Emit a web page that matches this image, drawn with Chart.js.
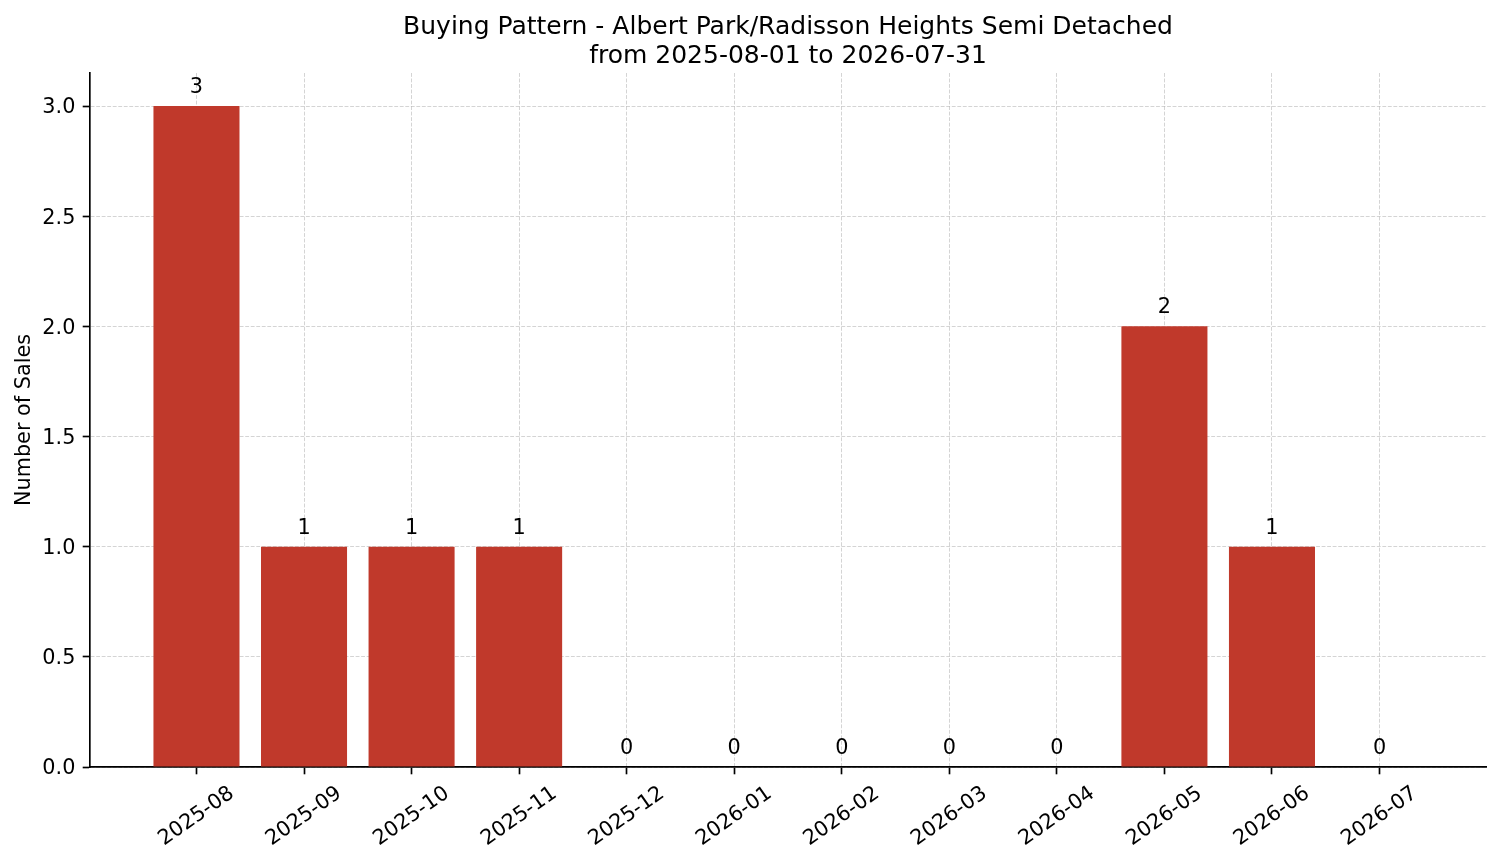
<!DOCTYPE html>
<html>
<head>
<meta charset="utf-8">
<title>Buying Pattern</title>
<script src="https://cdn.jsdelivr.net/npm/chart.js@4.4.1/dist/chart.umd.min.js"></script>
<style>
  html, body { margin: 0; padding: 0; background: #fff; }
  #wrap { width: 1501px; height: 863px; position: relative; }
</style>
</head>
<body>
<div id="wrap"><canvas id="chart"></canvas></div>
<script>
// Monthly sales counts for the suburb
const months = ['2025-08', '2025-09', '2025-10', '2025-11', '2025-12', '2026-01',
                '2026-02', '2026-03', '2026-04', '2026-05', '2026-06', '2026-07'];
const sales = [3, 1, 1, 1, 0, 0, 0, 0, 0, 2, 1, 0];
const yTicks = [0, 0.5, 1.0, 1.5, 2.0, 2.5, 3.0];
const titleLines = ['Buying Pattern - Albert Park/Radisson Heights Semi Detached',
                    'from 2025-08-01 to 2026-07-31'];

const FONT = 'DejaVu Sans';
const FS = 20.8;
const BAR = '#c0392b';
const GRID = 'rgba(176,176,176,0.55)';
const TICK_LEN = 7.3;

Chart.defaults.font.family = FONT;
Chart.defaults.color = '#000';

// title centred over the plot area, like matplotlib's ax.set_title
const axesTitle = {
  id: 'axesTitle',
  afterDraw(chart) {
    const { ctx, chartArea } = chart;
    const cx = (chartArea.left + chartArea.right) / 2;
    ctx.save();
    ctx.font = `25px "${FONT}"`;
    ctx.fillStyle = '#000';
    ctx.textAlign = 'center';
    ctx.textBaseline = 'alphabetic';
    titleLines.forEach((t, i) => ctx.fillText(t, cx, 34 + i * 28.7));
    ctx.restore();
  }
};

// rotated, centred month labels under the x axis
const monthLabels = {
  id: 'monthLabels',
  afterDraw(chart) {
    const { ctx, chartArea, scales: { x } } = chart;
    const ang = 35 * Math.PI / 180;
    const top = chartArea.bottom + TICK_LEN + 7.3;
    ctx.save();
    ctx.font = `${FS}px "${FONT}"`;
    ctx.fillStyle = '#000';
    ctx.textAlign = 'center';
    ctx.textBaseline = 'middle';
    months.forEach((m, i) => {
      const w = ctx.measureText(m).width;
      const h = FS * 1.164;
      const H = w * Math.sin(ang) + h * Math.cos(ang);
      ctx.save();
      ctx.translate(x.getPixelForValue(i), top + H / 2);
      ctx.rotate(-ang);
      ctx.fillText(m, 0, 0);
      ctx.restore();
    });
    ctx.restore();
  }
};

// value labels above each bar
const valueLabels = {
  id: 'valueLabels',
  afterDatasetsDraw(chart) {
    const { ctx, scales: { y } } = chart;
    const meta = chart.getDatasetMeta(0);
    ctx.save();
    ctx.font = `${FS}px "${FONT}"`;
    ctx.fillStyle = '#000';
    ctx.textAlign = 'center';
    ctx.textBaseline = 'alphabetic';
    meta.data.forEach((bar, i) => {
      ctx.fillText(String(sales[i]), bar.x, y.getPixelForValue(sales[i]) - 13);
    });
    ctx.restore();
  }
};

const gridOpts = {
  color: GRID,
  lineWidth: 1,
  offset: false,
  drawTicks: true,
  tickLength: TICK_LEN,
  tickColor: '#000',
  tickWidth: 1.67,
  tickBorderDash: [],
};
const borderOpts = { display: true, color: '#000', width: 1.67, dash: [3.85, 1.67] };

new Chart(document.getElementById('chart'), {
  type: 'bar',
  data: {
    datasets: [{
      data: sales.map((v, i) => ({ x: i, y: v })),
      backgroundColor: BAR,
      borderWidth: 0,
      barPercentage: 0.8,
      categoryPercentage: 1.0,
    }],
  },
  options: {
    responsive: true,
    maintainAspectRatio: false,
    animation: false,
    layout: { padding: { left: 0, right: 15, top: 73, bottom: 0 } },
    plugins: {
      legend: { display: false },
      tooltip: { enabled: false },
      title: { display: false },
    },
    scales: {
      x: {
        type: 'linear',
        offset: false,
        min: -0.99,
        max: 11.99,
        z: 1,
        afterBuildTicks: s => { s.ticks = months.map((m, i) => ({ value: i })); },
        afterFit: s => { s.height = 96; },
        ticks: { display: false },
        grid: gridOpts,
        border: borderOpts,
      },
      y: {
        min: 0,
        max: 3.15,
        z: 1,
        afterBuildTicks: s => { s.ticks = yTicks.map(v => ({ value: v })); },
        afterFit: s => { s.width = 90; },
        ticks: {
          padding: 7.3,
          labelOffset: 2,
          font: { size: FS },
          color: '#000',
          callback: v => Number(v).toFixed(1),
        },
        grid: gridOpts,
        border: borderOpts,
        title: {
          display: true,
          text: 'Number of Sales',
          color: '#000',
          font: { size: FS, lineHeight: 1.2 },
          padding: { top: 12, bottom: 0 },
        },
      },
    },
  },
  plugins: [valueLabels, monthLabels, axesTitle],
});
</script>
</body>
</html>
